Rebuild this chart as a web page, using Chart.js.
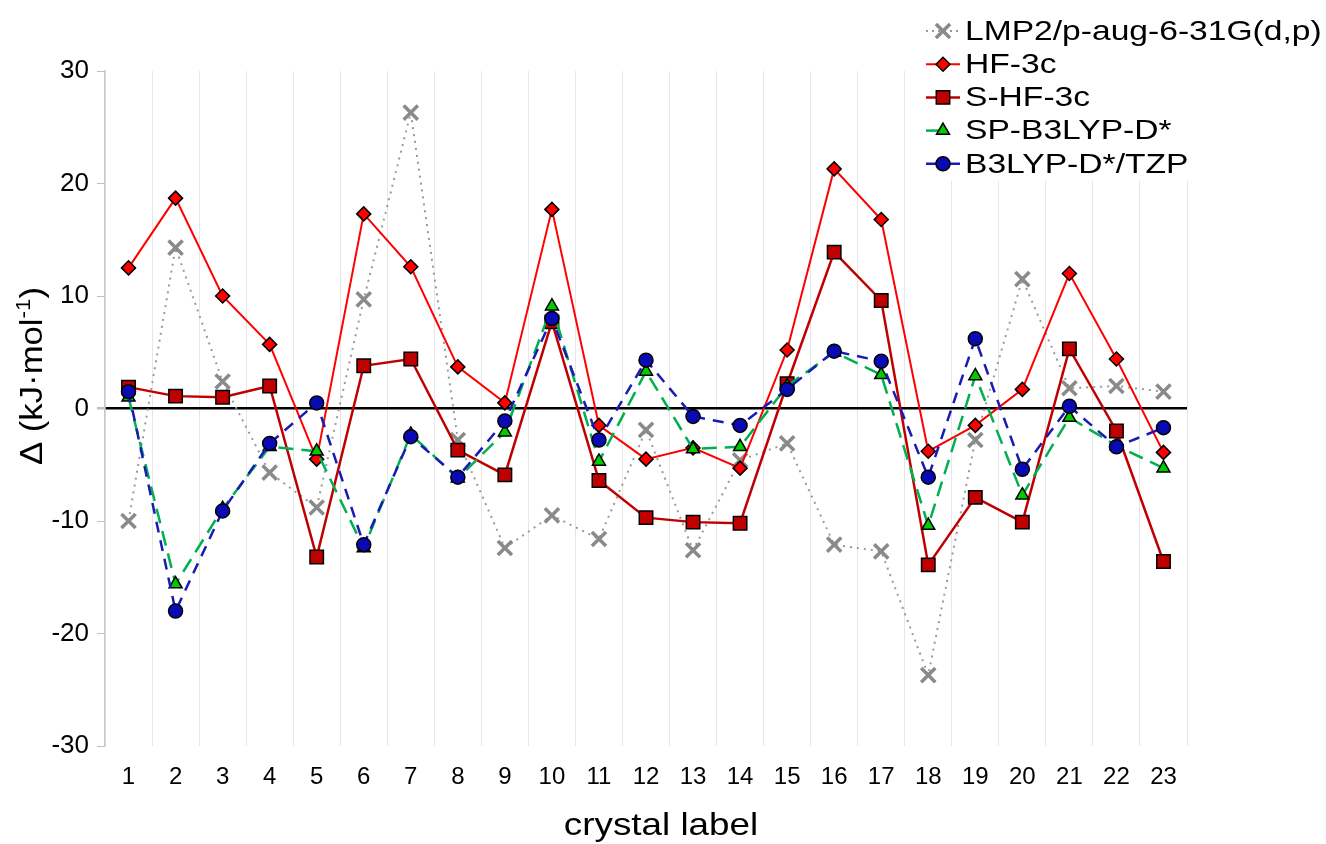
<!DOCTYPE html>
<html>
<head>
<meta charset="utf-8">
<script src="https://cdn.jsdelivr.net/npm/chart.js@4.4.1/dist/chart.umd.min.js"></script>
<style>
  html, body { margin: 0; padding: 0; background: #fff; }
  #wrap { width: 1326px; height: 844px; }
</style>
</head>
<body>
<div id="wrap"><canvas id="deltaChart" width="1326" height="844"></canvas></div>
<script>
const crystalLabels = ["1", "2", "3", "4", "5", "6", "7", "8", "9", "10", "11", "12",
  "13", "14", "15", "16", "17", "18", "19", "20", "21", "22", "23"];

const lmp2 = [-10.0, 14.3, 2.4, -5.7, -8.8, 9.7, 26.3, -2.8, -12.4, -9.5, -11.6, -1.9,
  -12.6, -4.6, -3.1, -12.1, -12.7, -23.7, -2.8, 11.5, 1.8, 2.0, 1.5];
const hf3c = [12.5, 18.7, 10.0, 5.7, -4.5, 17.3, 12.6, 3.7, 0.5, 17.7, -1.5, -4.5,
  -3.5, -5.3, 5.2, 21.3, 16.8, -3.8, -1.5, 1.7, 12.0, 4.4, -3.9];
const shf3c = [1.9, 1.1, 1.0, 2.0, -13.2, 3.8, 4.4, -3.7, -5.9, 7.7, -6.4, -9.7,
  -10.1, -10.2, 2.2, 13.9, 9.6, -13.9, -7.9, -10.1, 5.3, -2.0, -13.6];
const spB3lyp = [1.0, -15.6, -8.9, -3.4, -3.8, -12.4, -2.3, -6.2, -2.1, 9.1, -4.7, 3.3,
  -3.6, -3.4, 2.0, 5.0, 3.0, -10.4, 2.9, -7.7, -0.8, -3.3, -5.3];
const b3lypTzp = [1.5, -18.0, -9.1, -3.1, 0.5, -12.1, -2.5, -6.1, -1.1, 8.0, -2.8, 4.3,
  -0.7, -1.5, 1.7, 5.1, 4.2, -6.1, 6.2, -5.4, 0.2, -3.4, -1.7];

const seriesNames = ["LMP2/p-aug-6-31G(d,p)", "HF-3c", "S-HF-3c", "SP-B3LYP-D*", "B3LYP-D*/TZP"];

const FONT = "'Liberation Sans', Arial, sans-serif";

const datasets = [
  {
    label: seriesNames[0], data: lmp2, order: 5,
    borderColor: "#9a9a9a", borderWidth: 2, borderDash: [2, 5],
    pointStyle: "crossRot", pointRadius: 10, pointBorderWidth: 3.5,
    pointBorderColor: "#8a8a8a", pointBackgroundColor: "#8a8a8a"
  },
  {
    label: seriesNames[1], data: hf3c, order: 4,
    borderColor: "#ff0000", borderWidth: 2,
    pointStyle: "rectRot", pointRadius: 7, pointBorderWidth: 1.5,
    pointBorderColor: "#000", pointBackgroundColor: "#ff0000"
  },
  {
    label: seriesNames[2], data: shf3c, order: 3,
    borderColor: "#c00000", borderWidth: 2.5,
    pointStyle: "rect", pointRadius: 9.5, pointBorderWidth: 1.5,
    pointBorderColor: "#000", pointBackgroundColor: "#c00000"
  },
  {
    label: seriesNames[3], data: spB3lyp, order: 2,
    borderColor: "#00b050", borderWidth: 2.5, borderDash: [15, 8],
    pointStyle: "triangle", pointRadius: 7.5, pointBorderWidth: 1.5,
    pointBorderColor: "#000", pointBackgroundColor: "#00cc00"
  },
  {
    label: seriesNames[4], data: b3lypTzp, order: 1,
    borderColor: "#1a1ab4", borderWidth: 2.5, borderDash: [11, 8],
    pointStyle: "circle", pointRadius: 7, pointBorderWidth: 1.5,
    pointBorderColor: "#000", pointBackgroundColor: "#0a0ab4"
  }
];
datasets.forEach(d => { d.tension = 0; d.fill = false; });

// text drawn a little wider than the font's natural width
function wideText(ctx, text, x, y, size, stretch, align) {
  ctx.save();
  ctx.font = size + "px " + FONT;
  ctx.textBaseline = "middle";
  const w = ctx.measureText(text).width * stretch;
  let left = x;
  if (align === "center") left = x - w / 2;
  ctx.translate(left, y);
  ctx.scale(stretch, 1);
  ctx.fillText(text, 0, 0);
  ctx.restore();
  return w;
}

// legend sits on top of the plot area, with a white patch behind it
const legendBox = { x: 918, y: 0, w: 408, h: 181 };
const cornerLegend = {
  id: "cornerLegend",
  beforeDatasetsDraw(chart) {
    const ctx = chart.ctx;
    ctx.save();
    ctx.fillStyle = "#fff";
    ctx.fillRect(legendBox.x, legendBox.y, legendBox.w, legendBox.h);
    ctx.restore();
  },
  afterDraw(chart) {
    const ctx = chart.ctx;
    chart.data.datasets.forEach((ds, i) => {
      const cy = 31 + i * 33.2;
      ctx.save();
      ctx.strokeStyle = ds.borderColor;
      ctx.lineWidth = ds.borderWidth;
      ctx.setLineDash(i === 0 ? [2, 4] : []);
      ctx.beginPath();
      ctx.moveTo(926, cy);
      ctx.lineTo(i === 3 ? 948 : 960, cy);
      ctx.stroke();
      ctx.restore();
      ctx.save();
      ctx.fillStyle = ds.pointBackgroundColor;
      ctx.strokeStyle = ds.pointBorderColor;
      ctx.lineWidth = ds.pointBorderWidth;
      Chart.helpers.drawPoint(ctx, {
        pointStyle: ds.pointStyle, radius: ds.pointRadius, rotation: 0,
        borderWidth: ds.pointBorderWidth
      }, 943, cy);
      ctx.restore();
      ctx.save();
      ctx.fillStyle = "#000";
      wideText(ctx, ds.label, 965, cy + 1, 28, 1.2, "left");
      ctx.restore();
    });
  }
};

// axis titles: the y title carries a raised "-1"
const axisTitles = {
  id: "axisTitles",
  afterDraw(chart) {
    const ctx = chart.ctx;
    const area = chart.chartArea;
    ctx.save();
    ctx.fillStyle = "#000";
    wideText(ctx, "crystal label", 661, 826, 32, 1.15, "center");
    ctx.restore();

    ctx.save();
    ctx.translate(33, 376);
    ctx.rotate(-Math.PI / 2);
    ctx.fillStyle = "#000";
    ctx.textBaseline = "middle";
    const main = "Δ (kJ·mol";
    const sup = "-1";
    const tail = ")";
    const s = 1.12;
    ctx.font = "31px " + FONT;
    const w1 = ctx.measureText(main).width;
    const w3 = ctx.measureText(tail).width;
    ctx.font = "20px " + FONT;
    const w2 = ctx.measureText(sup).width;
    const total = (w1 + w2 + w3) * s;
    ctx.translate(-total / 2, 0);
    ctx.scale(s, 1);
    ctx.font = "31px " + FONT;
    ctx.fillText(main, 0, 0);
    ctx.font = "20px " + FONT;
    ctx.fillText(sup, w1, -9);
    ctx.font = "31px " + FONT;
    ctx.fillText(tail, w1 + w2, 0);
    ctx.restore();
  }
};

new Chart(document.getElementById("deltaChart"), {
  type: "line",
  data: { labels: crystalLabels, datasets: datasets },
  plugins: [cornerLegend, axisTitles],
  options: {
    responsive: false,
    animation: false,
    layout: { padding: { top: 71, right: 139, left: 0, bottom: 0 } },
    plugins: { legend: { display: false }, tooltip: { enabled: false } },
    scales: {
      x: {
        offset: true,
        grid: { offset: true, color: "#e6e6e6", lineWidth: 1, drawTicks: false },
        border: { display: false },
        ticks: { color: "#000", font: { family: FONT, size: 24 }, padding: 17, maxRotation: 0 },
        afterFit(scale) { scale.height = 98; }
      },
      y: {
        min: -30, max: 30,
        ticks: { stepSize: 10, color: "#000", font: { family: FONT, size: 26 }, padding: 8 },
        grid: {
          color: c => (c.tick && c.tick.value === 0 ? "#000" : "rgba(0,0,0,0)"),
          lineWidth: c => (c.tick && c.tick.value === 0 ? 2.5 : 1),
          tickColor: "#bfbfbf", tickLength: 8, drawTicks: true
        },
        border: { color: "#c8c8c8", width: 1.5 },
        afterFit(scale) { scale.width = 105; }
      }
    }
  }
});
</script>
</body>
</html>
